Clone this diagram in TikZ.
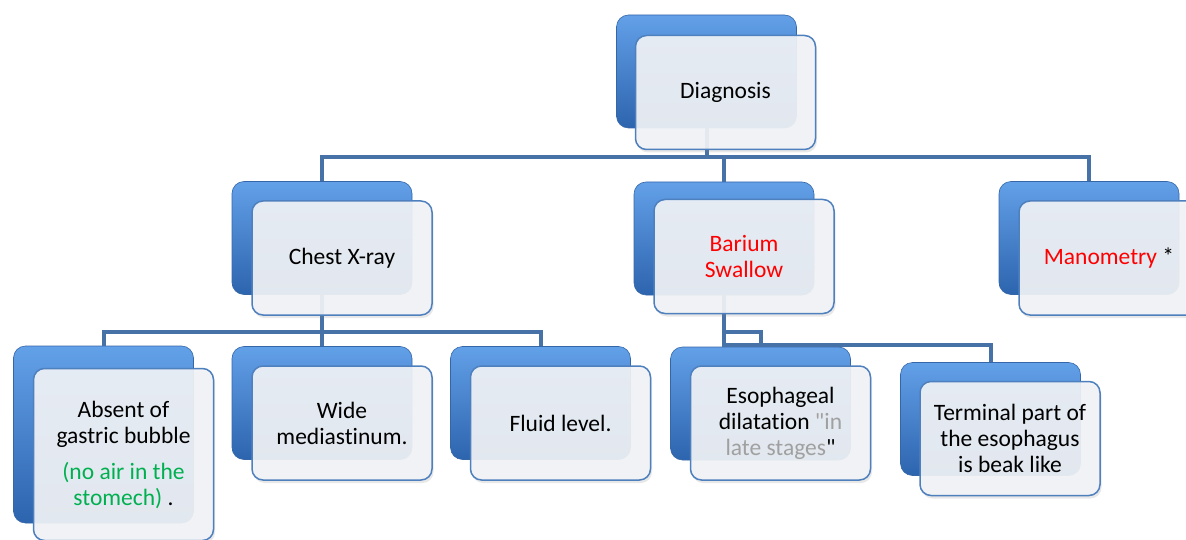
\documentclass[tikz,border=0pt]{standalone}
\usepackage{fontspec}
\setmainfont{Carlito}[Ligatures={NoCommon}]
\usepackage{xcolor}
\usetikzlibrary{shadows}

% straight double quote, no tex-text mapping
\font\quotefont="Carlito" at 23.5pt
\newcommand{\sq}{{\quotefont"}}

\definecolor{boxtop}{HTML}{62A0E8}
\definecolor{boxmid}{HTML}{3E7ECC}
\definecolor{boxbot}{HTML}{2D64AE}
\definecolor{boxedge}{HTML}{3567A8}
\definecolor{frontfill}{HTML}{F1F3F6}
\definecolor{frontedge}{HTML}{4F80BE}
\definecolor{linkblue}{HTML}{4672A8}
\definecolor{notegreen}{HTML}{00B050}
\definecolor{notegray}{HTML}{A0A0A0}

\begin{document}
\begin{tikzpicture}[x=1pt,y=-1pt]
\tikzstyle{backbox} = [rectangle, rounded corners=12pt, minimum width=180pt, minimum height=113pt, inner sep=0pt, draw=boxedge, line width=0.6pt, top color=boxtop, middle color=boxmid, bottom color=boxbot]
\tikzstyle{frontbox} = [rectangle, rounded corners=11pt, minimum width=180pt, minimum height=114pt, inner sep=4pt, draw=frontedge, line width=1.5pt, fill=frontfill, fill opacity=0.92, text opacity=1, align=center, font=\fontsize{23.5}{26}\selectfont, drop shadow={opacity=0.18, shadow xshift=1.5pt, shadow yshift=-3pt}]
\tikzstyle{link} = [linkblue, line width=4pt]

\useasboundingbox (0,0) rectangle (1186,540);
\clip (0,0) rectangle (1186,540);

% back boxes
\node (diagB) [backbox] at (706.5,71.5) {};
\node (chestB) [backbox] at (322,238) {};
\node (baB) [backbox] at (724,238.5) {};
\node (manoB) [backbox] at (1089,238) {};
\node (absB) [backbox, minimum height=177pt] at (103.5,434.5) {};
\node (wideB) [backbox] at (322,403) {};
\node (fluidB) [backbox] at (540.5,403) {};
\node (esoB) [backbox] at (760.5,403.5) {};
\node (termB) [backbox] at (990.5,419) {};

% connectors
\draw [link] (diagB.south) -- ++(0,29) -| (chestB.north);
\draw [link] (diagB.south) -- ++(0,29) -| (baB.north);
\draw [link] (diagB.south) -- ++(0,29) -| (manoB.north);

\draw [link] (chestB.south) -- ++(0,37) -| (absB.north);
\draw [link] (chestB.south) -- ++(0,37) -| (wideB.north);
\draw [link] (chestB.south) -- ++(0,37) -| (fluidB.north);

\draw [link] (baB.south) -- ++(0,37) -| (esoB.north);
\draw [link] (baB.south) -- ++(0,50) -| (termB.north);

% front boxes
\node (diag) [frontbox] at ([shift={(19,21)}]diagB.center) {Diagnosis};
\node (chest) [frontbox] at ([shift={(20,20)}]chestB.center) {Chest X-ray};
\node (ba) [frontbox] at ([shift={(20,18)}]baB.center) {\textcolor{red}{Barium}\\\textcolor{red}{Swallow}};
\node (mano) [frontbox] at ([shift={(20,20)}]manoB.center) {\textcolor{red}{Manometry} *};
\node (abs) [frontbox, minimum height=172pt] at ([shift={(20,20)}]absB.center) {Absent of\\gastric bubble\\[10pt]\textcolor{notegreen}{(no air in the}\\\textcolor{notegreen}{stomech)} .};
\node (wide) [frontbox] at ([shift={(20,20)}]wideB.center) {Wide\\mediastinum.};
\node (fluid) [frontbox] at ([shift={(20,20)}]fluidB.center) {Fluid level.};
\node (eso) [frontbox] at ([shift={(20,19.5)}]esoB.center) {Esophageal\\dilatation \textcolor{notegray}{\sq in}\\\textcolor{notegray}{late stages}\sq};
\node (term) [frontbox] at ([shift={(19.5,19.5)}]termB.center) {Terminal part of\\the esophagus\\is beak like};

\end{tikzpicture}
\end{document}
